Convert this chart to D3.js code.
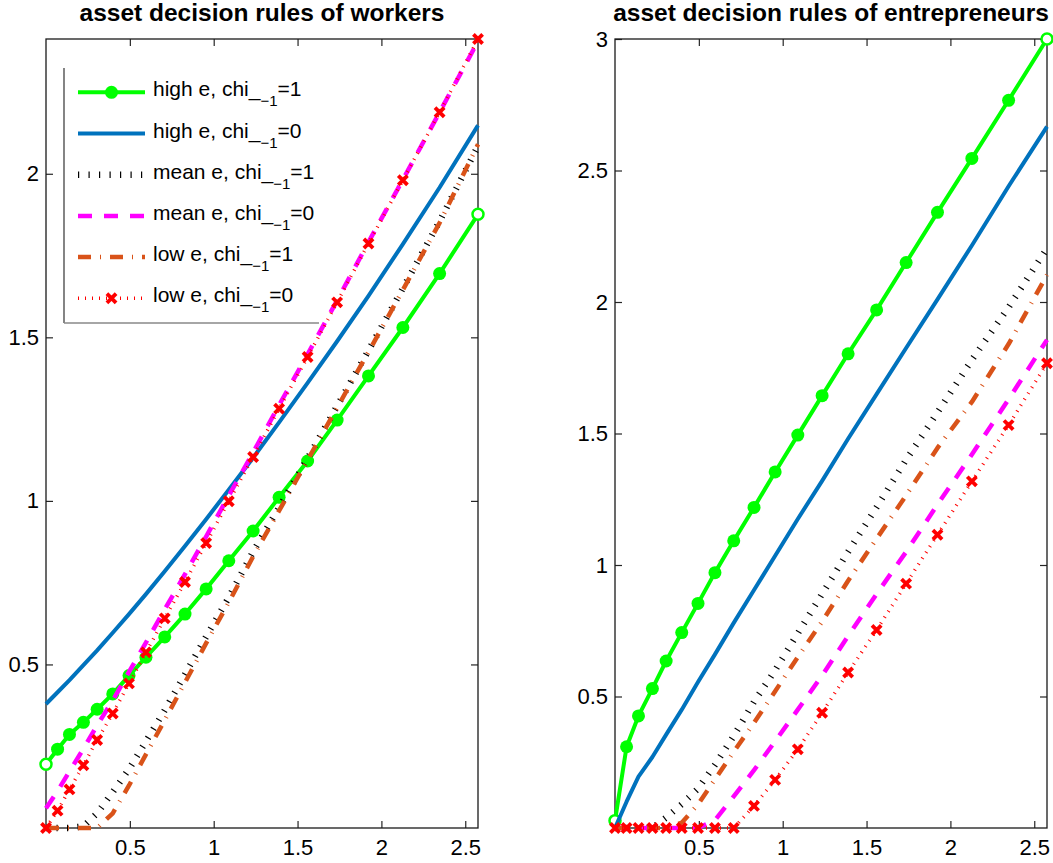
<!DOCTYPE html>
<html>
<head>
<meta charset="utf-8">
<title>asset decision rules</title>
<script src="https://cdn.jsdelivr.net/npm/d3@7"></script>
<style>
    html, body { margin: 0; padding: 0; background: #fff; }
    svg { display: block; font-family: "Liberation Sans", Arial, Helvetica, sans-serif; }
    .tick text { font-size: 22px; fill: #000; }
    .tick line { stroke: #262626; stroke-width: 1.2; }
</style>
</head>
<body>
<svg id="chart" width="1053" height="863"></svg>
<script>
// ============================================
// Asset decision rules, workers vs entrepreneurs
// ============================================

// current assets grid (shared by both panels)
const assetGrid = [0, 0.069, 0.14, 0.223, 0.305, 0.398, 0.495, 0.596, 0.708, 0.829,
    0.955, 1.09, 1.235, 1.39, 1.56, 1.736, 1.923, 2.128, 2.347, 2.576];

// workers: next period assets
const workersHighChi1 = [0.195, 0.241, 0.286, 0.323, 0.363, 0.410, 0.466, 0.522, 0.584, 0.654,
    0.731, 0.817, 0.908, 1.011, 1.122, 1.247, 1.382, 1.530, 1.695, 1.876];
const workersHighChi0 = [0.379, 0.415, 0.452, 0.498, 0.543, 0.597, 0.654, 0.715, 0.785, 0.862,
    0.944, 1.034, 1.132, 1.240, 1.361, 1.488, 1.627, 1.785, 1.958, 2.148];
const workersMeanChi1 = [0, 0, 0, 0.005, 0.045, 0.110, 0.180, 0.265, 0.360, 0.470,
    0.585, 0.705, 0.845, 0.980, 1.130, 1.290, 1.460, 1.650, 1.855, 2.085];
const workersMeanChi0 = [0.060, 0.113, 0.173, 0.242, 0.314, 0.390, 0.477, 0.567, 0.668, 0.776,
    0.891, 1.016, 1.148, 1.293, 1.448, 1.613, 1.791, 1.982, 2.188, 2.405];
const workersLowChi1 = [0, 0, 0, 0, 0, 0.045, 0.130, 0.225, 0.330, 0.445,
    0.565, 0.690, 0.830, 0.970, 1.125, 1.285, 1.455, 1.645, 1.850, 2.090];
const workersLowChi0 = [0, 0.053, 0.118, 0.192, 0.269, 0.350, 0.442, 0.537, 0.641, 0.752,
    0.871, 0.999, 1.134, 1.282, 1.440, 1.607, 1.787, 1.980, 2.188, 2.412];

// entrepreneurs: next period assets
const entrepHighChi1 = [0.028, 0.309, 0.426, 0.530, 0.635, 0.743, 0.854, 0.971, 1.092, 1.219,
    1.354, 1.494, 1.644, 1.803, 1.970, 2.150, 2.341, 2.546, 2.767, 3.000];
const entrepHighChi0 = [0, 0.100, 0.195, 0.270, 0.355, 0.450, 0.555, 0.660, 0.780, 0.905,
    1.035, 1.175, 1.320, 1.480, 1.650, 1.825, 2.010, 2.215, 2.440, 2.667];
const entrepMeanChi1 = [0, 0, 0, 0, 0.040, 0.090, 0.150, 0.240, 0.350, 0.480,
    0.600, 0.740, 0.890, 1.050, 1.220, 1.400, 1.580, 1.780, 1.980, 2.204];
const entrepMeanChi0 = [0, 0, 0, 0, 0, 0, 0, 0.030, 0.120, 0.220,
    0.330, 0.450, 0.580, 0.730, 0.890, 1.050, 1.230, 1.420, 1.630, 1.856];
const entrepLowChi1 = [0, 0, 0, 0, 0, 0.020, 0.090, 0.185, 0.290, 0.400,
    0.520, 0.650, 0.785, 0.940, 1.100, 1.265, 1.445, 1.620, 1.840, 2.103];
const entrepLowChi0 = [0, 0, 0, 0, 0, 0, 0, 0, 0, 0.084,
    0.183, 0.299, 0.438, 0.591, 0.753, 0.929, 1.115, 1.318, 1.532, 1.767];

// legend text pieces: "<type> e, chi_{-1}=<chi>"
const legendTypes = ['high e', 'high e', 'mean e', 'mean e', 'low e', 'low e'];
const legendChi = ['1', '0', '1', '0', '1', '0'];

// ticks
const xTicks = [0.5, 1, 1.5, 2, 2.5];
const workersYTicks = [0.5, 1, 1.5, 2];
const entrepYTicks = [0.5, 1, 1.5, 2, 2.5, 3];

// line styles, same order as the series
const SERIES_STYLES = [
    { color: '#00ff00', width: 4, dash: null, marker: 'circle' },
    { color: '#0072bd', width: 4, dash: null },
    { color: '#000000', width: 6.5, dash: '1.2 9.3' },
    { color: '#ff00ff', width: 4.5, dash: '14 12' },
    { color: '#d95319', width: 4.5, dash: '13 9 1 9' },
    { color: '#ff0000', width: 3.5, dash: '1 6', marker: 'cross' }
];

const svg = d3.select('#chart');

/**
 * Draw a marker (circle or x) centred at 0,0 inside group g
 */
function drawMarker(g, style, hollow) {
    if (style.marker === 'circle') {
        g.append('circle')
            .attr('r', hollow ? 5.5 : 6.5)
            .attr('fill', hollow ? '#fff' : style.color)
            .attr('stroke', style.color)
            .attr('stroke-width', hollow ? 2.5 : 0);
    } else if (style.marker === 'cross') {
        g.append('path')
            .attr('d', 'M-4.6,-4.6L4.6,4.6M-4.6,4.6L4.6,-4.6')
            .attr('stroke', style.color)
            .attr('stroke-width', 3.8)
            .attr('fill', 'none');
    }
}

/**
 * One panel: frame, ticks, title, six policy lines
 */
function drawPanel(cfg) {
    const g = svg.append('g').attr('transform', `translate(${cfg.left},${cfg.top})`);
    const x = d3.scaleLinear().domain([0, cfg.xMax]).range([0, cfg.width]);
    const y = d3.scaleLinear().domain([0, cfg.yMax]).range([cfg.height, 0]);
    const fmt = d => String(d);

    // ticks point inward on all four sides
    g.append('g').attr('transform', `translate(0,${cfg.height})`)
        .call(d3.axisBottom(x).tickValues(xTicks).tickFormat(fmt).tickSizeInner(-7).tickSizeOuter(0).tickPadding(11));
    g.append('g')
        .call(d3.axisTop(x).tickValues(xTicks).tickFormat('').tickSizeInner(-7).tickSizeOuter(0));
    g.append('g')
        .call(d3.axisLeft(y).tickValues(cfg.yTicks).tickFormat(fmt).tickSizeInner(-7).tickSizeOuter(0).tickPadding(7));
    g.append('g').attr('transform', `translate(${cfg.width},0)`)
        .call(d3.axisRight(y).tickValues(cfg.yTicks).tickFormat('').tickSizeInner(-7).tickSizeOuter(0));
    g.selectAll('.domain').remove();

    g.append('rect')
        .attr('width', cfg.width).attr('height', cfg.height)
        .attr('fill', 'none').attr('stroke', '#1a1a1a').attr('stroke-width', 1.3);

    g.append('text')
        .attr('x', cfg.width / 2).attr('y', 21 - cfg.top)
        .attr('text-anchor', 'middle')
        .style('font-size', '24.5px').style('font-weight', 'bold')
        .text(cfg.title);

    const line = d3.line().x((d, i) => x(assetGrid[i])).y(d => y(d));

    cfg.series.forEach((values, si) => {
        const st = SERIES_STYLES[si];
        g.append('path')
            .datum(values)
            .attr('d', line)
            .attr('fill', 'none')
            .attr('stroke', st.color)
            .attr('stroke-width', st.width)
            .attr('stroke-dasharray', st.dash)
            .attr('stroke-linejoin', 'round');

        if (st.marker) {
            values.forEach((v, i) => {
                const hollow = st.marker === 'circle' && (i === 0 || i === values.length - 1);
                const m = g.append('g').attr('transform', `translate(${x(assetGrid[i])},${y(v)})`);
                drawMarker(m, st, hollow);
            });
        }
    });

    return g;
}

/**
 * Legend box in the upper left of the workers panel
 */
function drawLegend() {
    const lg = svg.append('g');
    const box = { x: 64, y: 68, w: 255, h: 255 };

    lg.append('rect').attr('x', box.x).attr('y', box.y).attr('width', box.w).attr('height', box.h).attr('fill', '#fff');
    lg.append('line').attr('x1', box.x).attr('x2', box.x).attr('y1', box.y).attr('y2', box.y + box.h)
        .attr('stroke', '#333').attr('stroke-width', 1.2);
    lg.append('line').attr('x1', box.x).attr('x2', box.x + box.w).attr('y1', box.y + box.h).attr('y2', box.y + box.h)
        .attr('stroke', '#888').attr('stroke-width', 1.5);

    SERIES_STYLES.forEach((st, i) => {
        const ry = 92.3 + i * 41.2;
        lg.append('line')
            .attr('x1', 78).attr('x2', 145).attr('y1', ry).attr('y2', ry)
            .attr('stroke', st.color)
            .attr('stroke-width', st.width)
            .attr('stroke-dasharray', st.dash);
        if (st.marker) {
            drawMarker(lg.append('g').attr('transform', `translate(111.5,${ry})`), st, false);
        }
        // "chi_" followed by a lowered "-1"
        const t = lg.append('text')
            .attr('x', 153).attr('y', ry + 4)
            .style('font-size', '21px');
        t.append('tspan').text(`${legendTypes[i]}, chi_`);
        t.append('tspan').attr('dy', 10).style('font-size', '15px').text('\u22121');
        t.append('tspan').attr('dy', -10).text(`=${legendChi[i]}`);
    });
}

drawPanel({
    left: 46, top: 39, width: 432, height: 789,
    xMax: 2.576, yMax: 2.412, yTicks: workersYTicks,
    title: 'asset decision rules of workers',
    series: [workersHighChi1, workersHighChi0, workersMeanChi1, workersMeanChi0, workersLowChi1, workersLowChi0]
});

drawPanel({
    left: 615, top: 39, width: 432, height: 789,
    xMax: 2.576, yMax: 3, yTicks: entrepYTicks,
    title: 'asset decision rules of entrepreneurs',
    series: [entrepHighChi1, entrepHighChi0, entrepMeanChi1, entrepMeanChi0, entrepLowChi1, entrepLowChi0]
});

drawLegend();
</script>
</body>
</html>
